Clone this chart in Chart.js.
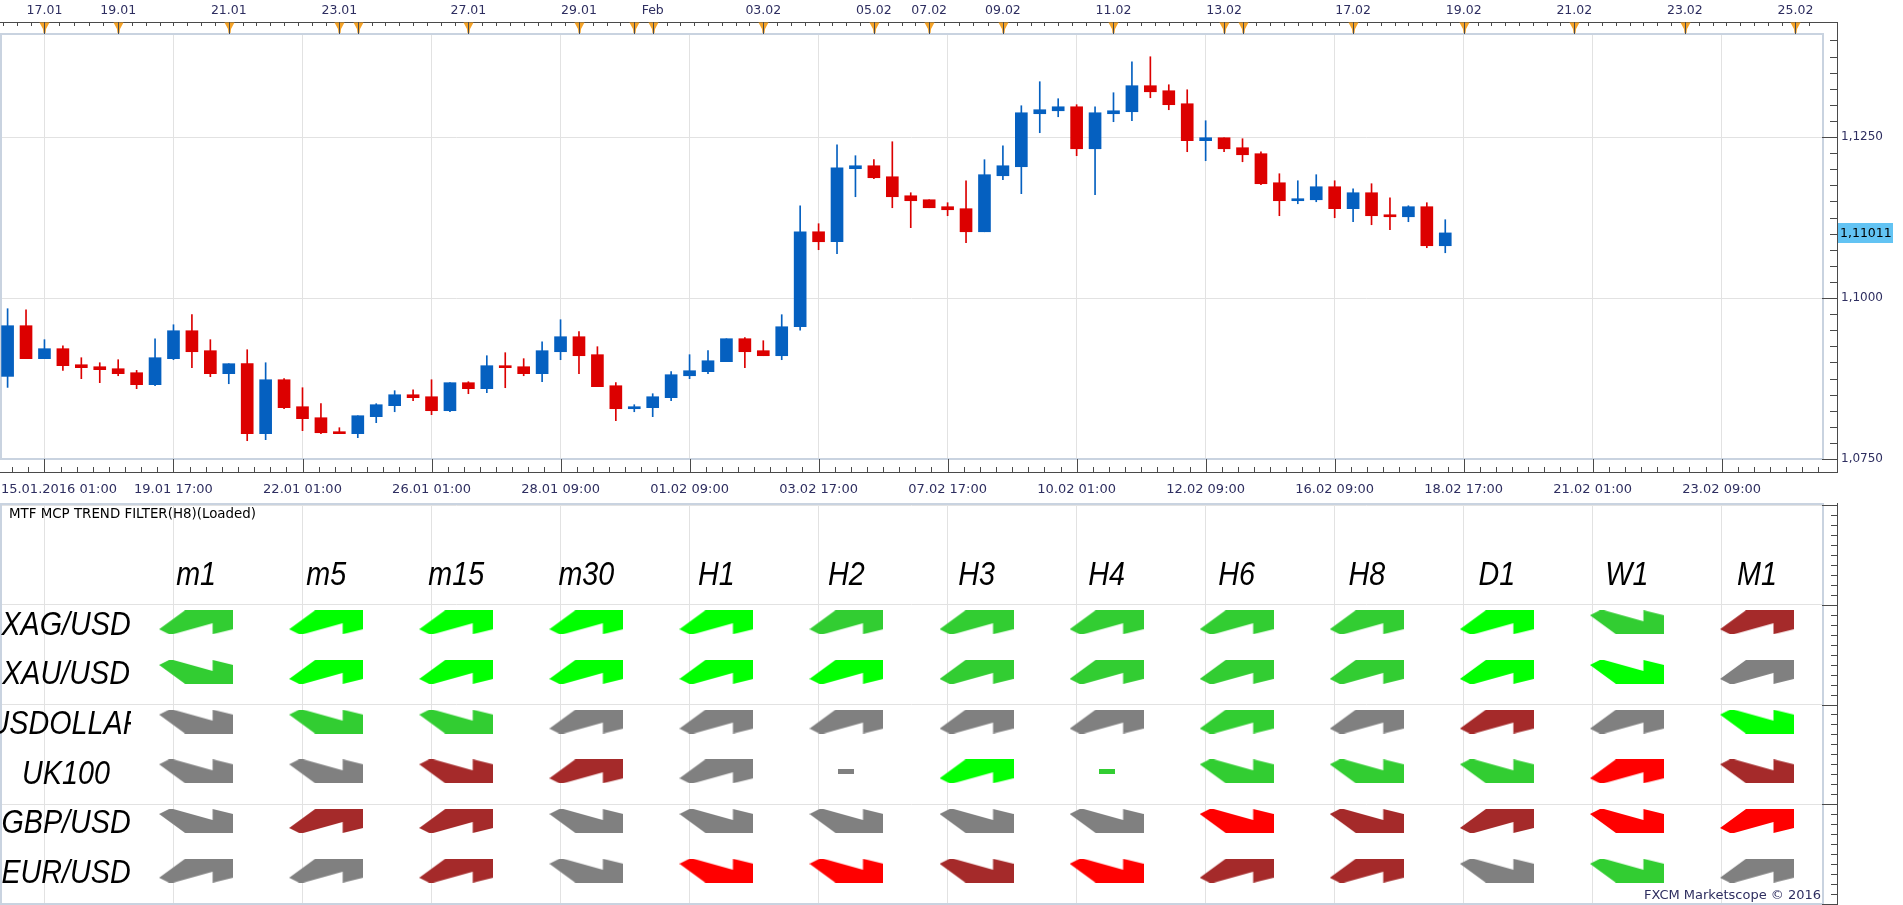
<!DOCTYPE html>
<html>
<head>
<meta charset="utf-8">
<script src="https://cdn.jsdelivr.net/npm/chart.js@4.4.1/dist/chart.umd.min.js"></script>
<style>
  html, body { margin: 0; padding: 0; background: #fff; }
  #wrap { position: relative; width: 1903px; height: 905px; overflow: hidden; background: #fff; }
  #priceChart { position: absolute; left: 0; top: 0; }
  #trendChart { position: absolute; left: 0; top: 503px; }
</style>
</head>
<body>
<div id="wrap">
  <canvas id="priceChart" width="1903" height="503"></canvas>
  <canvas id="trendChart" width="1903" height="402"></canvas>
</div>
<script>
// EUR/USD H8 candles
const candleOpen = [1.08783,1.09570,1.09058,1.09213,1.08964,1.08933,1.08902,1.08840,1.08654,1.09058,
  1.09492,1.09182,1.08825,1.08980,1.07893,1.08731,1.08312,1.08141,1.07924,1.07893,
  1.08157,1.08328,1.08498,1.08467,1.08250,1.08685,1.08592,1.08949,1.08933,1.08825,
  1.09166,1.09399,1.09120,1.08638,1.08281,1.08297,1.08452,1.08793,1.08856,1.09011,
  1.09368,1.09182,1.09104,1.09554,1.11029,1.10874,1.12008,1.12054,1.11883,1.11588,
  1.11526,1.11418,1.11387,1.11029,1.11899,1.12039,1.12862,1.12908,1.12970,1.12318,
  1.12862,1.12893,1.13297,1.13219,1.13017,1.12443,1.12489,1.12334,1.12241,1.11790,
  1.11511,1.11526,1.11728,1.11387,1.11635,1.11293,1.11262,1.11418,1.10812];
const candleHigh = [1.09834,1.09818,1.09353,1.09259,1.09073,1.08995,1.09042,1.08876,1.09368,1.09585,
  1.09741,1.09353,1.08980,1.09197,1.08995,1.08747,1.08607,1.08359,1.07986,1.08172,
  1.08359,1.08561,1.08576,1.08731,1.08685,1.08700,1.09104,1.09151,1.09058,1.09321,
  1.09663,1.09477,1.09244,1.08685,1.08343,1.08514,1.08856,1.09120,1.09182,1.09368,
  1.09384,1.09337,1.09741,1.11433,1.11154,1.12380,1.12210,1.12148,1.12427,1.11635,
  1.11526,1.11480,1.11821,1.12148,1.12365,1.12986,1.13359,1.13095,1.13002,1.12970,
  1.13188,1.13669,1.13747,1.13312,1.13234,1.12753,1.12489,1.12474,1.12272,1.11930,
  1.11821,1.11915,1.11821,1.11697,1.11775,1.11557,1.11433,1.11480,1.11216];
const candleLow = [1.08612,1.09058,1.09058,1.08876,1.08747,1.08685,1.08793,1.08592,1.08638,1.09042,
  1.08918,1.08778,1.08669,1.07784,1.07800,1.08281,1.07940,1.07893,1.07893,1.07831,
  1.08064,1.08234,1.08405,1.08188,1.08234,1.08514,1.08530,1.08607,1.08793,1.08700,
  1.09042,1.08825,1.08623,1.08095,1.08234,1.08157,1.08405,1.08747,1.08825,1.09011,
  1.08918,1.09104,1.09042,1.09500,1.10750,1.10688,1.11573,1.11852,1.11402,1.11092,
  1.11402,1.11278,1.10859,1.11029,1.11837,1.11620,1.12567,1.12815,1.12210,1.11604,
  1.12738,1.12753,1.13110,1.12924,1.12272,1.12132,1.12272,1.12116,1.11759,1.11278,
  1.11464,1.11495,1.11247,1.11185,1.11138,1.11061,1.11185,1.10781,1.10703];
const candleClose = [1.09570,1.09058,1.09213,1.08949,1.08918,1.08887,1.08825,1.08654,1.09073,1.09492,
  1.09166,1.08825,1.08980,1.07893,1.08731,1.08297,1.08126,1.07908,1.07893,1.08172,
  1.08343,1.08498,1.08452,1.08250,1.08685,1.08592,1.08949,1.08918,1.08825,1.09182,
  1.09399,1.09104,1.08623,1.08281,1.08312,1.08467,1.08809,1.08871,1.09026,1.09368,
  1.09166,1.09104,1.09554,1.11029,1.10874,1.12023,1.12054,1.11868,1.11573,1.11511,
  1.11402,1.11371,1.11029,1.11915,1.12054,1.12877,1.12924,1.12970,1.12318,1.12877,
  1.12908,1.13297,1.13203,1.13002,1.12443,1.12489,1.12318,1.12225,1.11775,1.11511,
  1.11542,1.11728,1.11387,1.11635,1.11278,1.11262,1.11418,1.10812,1.11011];

const bottomTickIdx = [2, 9, 16, 23, 30, 37, 44, 51, 58, 65, 72, 79, 86, 93];
const bottomTickLabels = ['       15.01.2016 01:00', '19.01 17:00', '22.01 01:00', '26.01 01:00', '28.01 09:00',
  '01.02 09:00', '03.02 17:00', '07.02 17:00', '10.02 01:00', '12.02 09:00', '16.02 09:00',
  '18.02 17:00', '21.02 01:00', '23.02 09:00'];
const topTickIdx = [2, 6, 12, 18, 25, 31, 35, 41, 47, 50, 54, 60, 66, 73, 79, 85, 91, 97];
const topTickLabels = ['17.01', '19.01', '21.01', '23.01', '27.01', '29.01', 'Feb', '03.02', '05.02',
  '07.02', '09.02', '11.02', '13.02', '17.02', '19.02', '21.02', '23.02', '25.02'];
const dayMarkIdx = [2, 6, 12, 18, 19, 25, 31, 34, 35, 41, 47, 50, 54, 60, 66, 67, 73, 79, 85, 91, 97];
const priceTicks = [1.075, 1.1, 1.125];

// trend filter table
const timeframes = ['m1', 'm5', 'm15', 'm30', 'H1', 'H2', 'H3', 'H4', 'H6', 'H8', 'D1', 'W1', 'M1'];
const symbols = ['XAG/USD', 'XAU/USD', 'USDOLLAR', 'UK100', 'GBP/USD', 'EUR/USD'];
// U = up, D = down, F = flat
const trendDirs = ['UUUUUUUUUUUDU', 'DUUUUUUUUUUDU', 'DDDUUUUUUUUUD', 'DDDUUFUFDDDUD', 'DUUDDDDDDDUDU', 'UUUDDDDDUUDDU'];
// L lime, G limegreen, S gray, B brown, R red
const trendColors = ['GLLLLGGGGGLGB', 'GLLLLLGGGGLLS', 'SGGSSSSSGSBSL', 'SSBBSSLGGGGRB', 'SBBSSSSSRBBRR', 'SSBSRRBRBBSGS'];

const palette = { L: '#00ff00', G: '#32cd32', S: '#808080', B: '#a52a2a', R: '#ff0000' };
const upColor = '#0560c0';
const downColor = '#dc0000';
const axisText = '#2e2e60';
const gridColor = '#e2e2e2';
const frameColor = '#c9d3e0';
const xMin = -0.358, xMax = 98.44;

const candleColors = candleClose.map((c, i) => c >= candleOpen[i] ? upColor : downColor);

// keep Chart.js from reserving room for overflowing edge labels
function fixSize(prop, size) {
    return s => {
        s[prop] = size;
        s.paddingLeft = 0; s.paddingRight = 0; s.paddingTop = 0; s.paddingBottom = 0;
    };
}

const priceDecor = {
    id: 'priceDecor',
    beforeDatasetsDraw(chart) {
        const ctx = chart.ctx, a = chart.chartArea;
        ctx.save();
        ctx.strokeStyle = frameColor;
        ctx.lineWidth = 2;
        ctx.strokeRect(a.left, a.top, a.right - a.left + 1, a.bottom - a.top);
        ctx.restore();
    },
    afterDraw(chart) {
        const ctx = chart.ctx, a = chart.chartArea;
        const xs = chart.scales.x, ys = chart.scales.y;
        ctx.save();
        ctx.fillStyle = '#4a4a4a';
        // top time axis
        ctx.fillRect(0, 22, 1838, 1);
        for (let k = 0; k < dayMarkIdx.length - 1; k++) {
            const gap = dayMarkIdx[k + 1] - dayMarkIdx[k];
            const n = Math.max(1, Math.round(gap / 0.75));
            for (let j = 1; j < n; j++) {
                const px = Math.round(xs.getPixelForValue(dayMarkIdx[k] + gap * j / n));
                ctx.fillRect(px, 22, 1, 4);
            }
        }
        for (let v = dayMarkIdx[0] - 0.75; v > xMin; v -= 0.75) ctx.fillRect(Math.round(xs.getPixelForValue(v)), 22, 1, 4);
        for (let v = 97.75; v < xMax; v += 0.75) ctx.fillRect(Math.round(xs.getPixelForValue(v)), 22, 1, 4);
        dayMarkIdx.forEach(v => {
            const px = Math.round(xs.getPixelForValue(v));
            ctx.fillStyle = '#f5a328';
            ctx.beginPath();
            ctx.moveTo(px - 4.5, 22.5);
            ctx.lineTo(px + 5.5, 22.5);
            ctx.lineTo(px + 2, 29);
            ctx.lineTo(px + 1.5, 33);
            ctx.lineTo(px - 0.5, 33);
            ctx.lineTo(px - 1, 29);
            ctx.closePath();
            ctx.fill();
            ctx.fillStyle = '#4a4a4a';
            ctx.fillRect(px, 22, 1, 12);
        });
        // right price axis
        ctx.fillRect(1837, 22, 1, 451);
        for (let p = 1.075; p <= 1.1409; p += 0.0025) {
            ctx.fillRect(1830, Math.round(ys.getPixelForValue(p)), 7, 1);
        }
        priceTicks.forEach(p => ctx.fillRect(1822, Math.round(ys.getPixelForValue(p)), 15, 1));
        // bottom time axis
        ctx.fillRect(0, 472, 1838, 1);
        for (let v = bottomTickIdx[0] - 7 / 8 * 2; v < xMax; v += 7 / 8) {
            ctx.fillRect(Math.round(xs.getPixelForValue(v)), 467, 1, 5);
        }
        bottomTickIdx.forEach(v => ctx.fillRect(Math.round(xs.getPixelForValue(v)), a.bottom, 1, 472 - a.bottom));
        // last price box
        const last = candleClose[candleClose.length - 1];
        const py = Math.round(ys.getPixelForValue(last));
        ctx.fillStyle = '#62c3f3';
        ctx.fillRect(1838, py - 10, 55, 20);
        ctx.fillStyle = '#000';
        ctx.font = '12.5px "DejaVu Sans"';
        ctx.textBaseline = 'middle';
        ctx.textAlign = 'left';
        ctx.fillText(last.toFixed(5).replace('.', ','), 1840, py + 1);
        ctx.restore();
    }
};

new Chart(document.getElementById('priceChart'), {
    type: 'bar',
    data: {
        datasets: [{
            label: 'body',
            data: candleOpen.map((o, i) => ({ x: i, y: [o, candleClose[i]] })),
            backgroundColor: candleColors,
            barThickness: 12,
            minBarLength: 2,
            grouped: false,
            xAxisID: 'x',
            yAxisID: 'y'
        }, {
            label: 'wick',
            data: candleLow.map((l, i) => ({ x: i, y: [l, candleHigh[i]] })),
            backgroundColor: candleColors,
            barThickness: 1,
            grouped: false,
            xAxisID: 'x',
            yAxisID: 'y'
        }]
    },
    options: {
        responsive: false,
        animation: false,
        devicePixelRatio: 1,
        layout: { padding: { left: 1, right: 0, top: 0, bottom: 0 } },
        plugins: { legend: { display: false }, tooltip: { enabled: false } },
        scales: {
            x: {
                type: 'linear', position: 'bottom', min: xMin, max: xMax, offset: false,
                afterBuildTicks: s => { s.ticks = bottomTickIdx.map(v => ({ value: v })); },
                afterFit: fixSize('height', 44),
                grid: { color: gridColor, drawTicks: false, offset: false },
                border: { display: false },
                ticks: {
                    autoSkip: false, maxRotation: 0, padding: 23, color: axisText,
                    font: { family: 'DejaVu Sans', size: 13 },
                    callback: (v, i) => bottomTickLabels[i]
                }
            },
            xTop: {
                type: 'linear', position: 'top', min: xMin, max: xMax, offset: false,
                afterBuildTicks: s => { s.ticks = topTickIdx.map(v => ({ value: v })); },
                afterFit: fixSize('height', 34),
                grid: { display: false, drawTicks: false },
                border: { display: false },
                ticks: {
                    autoSkip: false, maxRotation: 0, padding: 16, color: axisText,
                    font: { family: 'DejaVu Sans', size: 12.5 },
                    callback: (v, i) => topTickLabels[i]
                }
            },
            y: {
                type: 'linear', position: 'right', min: 1.075, max: 1.141, beginAtZero: false,
                afterBuildTicks: s => { s.ticks = priceTicks.map(v => ({ value: v })); },
                afterFit: fixSize('width', 81),
                grid: { color: gridColor, drawTicks: false },
                border: { display: false },
                ticks: {
                    padding: 19, color: axisText,
                    font: { family: 'DejaVu Sans', size: 12 },
                    callback: v => v.toFixed(4).replace('.', ',')
                }
            }
        }
    },
    plugins: [priceDecor]
});

// arrow glyphs used as point styles
function makeArrow(color, dir) {
    const c = document.createElement('canvas');
    const g = c.getContext('2d');
    if (dir === 'F') {
        c.width = 16; c.height = 5;
        g.fillStyle = color;
        g.fillRect(0, 0, 16, 5);
        return c;
    }
    c.width = 74; c.height = 24;
    const pts = [[0, 19], [26, 0], [74, 0], [74, 19], [53.5, 24], [53.5, 13], [14, 24], [10, 24]];
    g.beginPath();
    pts.forEach(([x, y], i) => {
        const yy = dir === 'U' ? y : 24 - y;
        if (i) g.lineTo(x, yy); else g.moveTo(x, yy);
    });
    g.closePath();
    g.fillStyle = color;
    g.fill();
    return c;
}

const glyphCache = {};
const trendPoints = [], trendStyles = [];
symbols.forEach((s, r) => {
    timeframes.forEach((tf, c) => {
        const key = trendColors[r][c] + trendDirs[r][c];
        if (!glyphCache[key]) glyphCache[key] = makeArrow(palette[trendColors[r][c]], trendDirs[r][c]);
        trendPoints.push({ x: c + 1, y: r + 1 });
        trendStyles.push(glyphCache[key]);
    });
});

function narrowText(ctx, text, x, y) {
    ctx.save();
    ctx.translate(x, y);
    ctx.scale(0.845, 1);
    ctx.fillText(text, 0, 12.4);
    ctx.restore();
}

const trendDecor = {
    id: 'trendDecor',
    afterDatasetsDraw(chart) {
        const ctx = chart.ctx, a = chart.chartArea;
        const xs = chart.scales.x, ys = chart.scales.y, yg = chart.scales.yGrid;
        ctx.save();
        // frame
        ctx.strokeStyle = frameColor;
        ctx.lineWidth = 2;
        ctx.strokeRect(a.left, 1, a.right - a.left + 1, a.bottom - 1);
        // right axis
        ctx.fillStyle = '#4a4a4a';
        ctx.fillRect(1837, 0, 1, 402);
        for (let v = 0; v <= 4.001; v += 0.1) ctx.fillRect(1831, Math.round(yg.getPixelForValue(v)), 6, 1);
        for (let v = 0; v <= 4; v++) ctx.fillRect(1822, Math.round(yg.getPixelForValue(v)), 15, 1);
        // title
        ctx.fillStyle = '#000';
        ctx.font = '13.4px "DejaVu Sans"';
        ctx.textAlign = 'left';
        ctx.textBaseline = 'middle';
        ctx.fillText('MTF MCP TREND FILTER(H8)(Loaded)', 9, 12);
        // headers and symbols
        ctx.font = 'italic 34px "Liberation Sans", Arial, sans-serif';
        ctx.textAlign = 'center';
        ctx.textBaseline = 'alphabetic';
        timeframes.forEach((tf, c) => narrowText(ctx, tf, xs.getPixelForValue(c + 1), ys.getPixelForValue(0)));
        ctx.save();
        ctx.beginPath();
        ctx.rect(0, 0, xs.getPixelForValue(0.5), 402);
        ctx.clip();
        symbols.forEach((s, r) => narrowText(ctx, s, xs.getPixelForValue(0), ys.getPixelForValue(r + 1)));
        ctx.restore();
        // footer
        ctx.fillStyle = axisText;
        ctx.font = '13px "DejaVu Sans"';
        ctx.textAlign = 'right';
        ctx.textBaseline = 'middle';
        ctx.fillText('FXCM Marketscope \u00a9 2016', 1821, 393);
        ctx.restore();
    }
};

new Chart(document.getElementById('trendChart'), {
    type: 'scatter',
    data: {
        datasets: [{
            data: trendPoints,
            pointStyle: trendStyles,
            pointRadius: 6,
            pointHoverRadius: 6,
            xAxisID: 'x',
            yAxisID: 'y'
        }]
    },
    options: {
        responsive: false,
        animation: false,
        devicePixelRatio: 1,
        layout: { autoPadding: false, padding: { left: 1, right: 0, top: 2, bottom: 1 } },
        plugins: { legend: { display: false }, tooltip: { enabled: false } },
        scales: {
            x: { type: 'linear', min: -0.5, max: 13.5, display: false },
            y: { type: 'linear', reverse: true, min: -1.358, max: 6.67, display: false },
            xTime: {
                type: 'linear', position: 'bottom', min: xMin, max: xMax,
                afterBuildTicks: s => { s.ticks = bottomTickIdx.map(v => ({ value: v })); },
                afterFit: fixSize('height', 0),
                grid: { color: gridColor, drawTicks: false },
                border: { display: false },
                ticks: { display: false }
            },
            yGrid: {
                type: 'linear', position: 'right', min: 0, max: 4, reverse: true,
                afterBuildTicks: s => { s.ticks = [0, 1, 2, 3, 4].map(v => ({ value: v })); },
                afterFit: fixSize('width', 81),
                grid: { color: gridColor, drawTicks: false },
                border: { display: false },
                ticks: { display: false }
            }
        }
    },
    plugins: [trendDecor]
});
</script>
</body>
</html>
